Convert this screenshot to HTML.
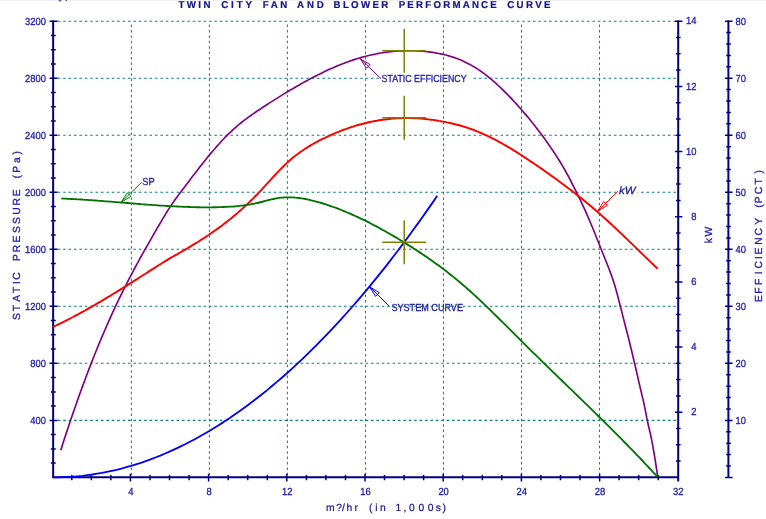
<!DOCTYPE html>
<html><head><meta charset="utf-8"><title>Twin City Fan and Blower Performance Curve</title>
<style>html,body{margin:0;padding:0;background:#fff;width:766px;height:519px;overflow:hidden}svg{display:block;filter:blur(0.4px)}text{text-rendering:geometricPrecision;font-family:"Liberation Sans",Arial,sans-serif}</style></head><body>
<svg width="766" height="519" viewBox="0 0 766 519" font-size="10">
<rect width="766" height="519" fill="#fff"/>
<rect x="0" y="0" width="766" height="1" fill="#f1f1f1"/>
<path d="M57.8 420.4 H677.2 M57.8 363.3 H677.2 M57.8 306.3 H677.2 M57.8 249.3 H677.2 M57.8 192.3 H677.2 M57.8 135.2 H677.2 M57.8 78.2 H677.2 M57.8 21.2 H677.2" fill="none" stroke="#008080" stroke-width="1.1" stroke-dasharray="2.5 2.9"/>
<path d="M131.4 24.6 V476.4 M209.4 24.6 V476.4 M287.4 24.6 V476.4 M365.5 24.6 V476.4 M443.5 24.6 V476.4 M521.5 24.6 V476.4 M599.5 24.6 V476.4" fill="none" stroke="#0c8686" stroke-width="1.05" stroke-dasharray="2.5 2.9"/>
<path d="M53.15 20.5 V478.3 M52.15 477.3 H679.2 M678.2 20.5 V481.6 M728.4 20.5 V478.0" stroke="#000080" stroke-width="2" fill="none"/>
<path d="M50.85 463.1 H55.75 M50.85 448.9 H55.75 M50.85 434.6 H55.75 M49.55 420.4 H57.55 M50.85 406.1 H55.75 M50.85 391.9 H55.75 M50.85 377.6 H55.75 M49.55 363.3 H57.55 M50.85 349.1 H55.75 M50.85 334.8 H55.75 M50.85 320.6 H55.75 M49.55 306.3 H57.55 M50.85 292.1 H55.75 M50.85 277.8 H55.75 M50.85 263.6 H55.75 M49.55 249.3 H57.55 M50.85 235.0 H55.75 M50.85 220.8 H55.75 M50.85 206.5 H55.75 M49.55 192.3 H57.55 M50.85 178.0 H55.75 M50.85 163.8 H55.75 M50.85 149.5 H55.75 M49.55 135.2 H57.55 M50.85 121.0 H55.75 M50.85 106.7 H55.75 M50.85 92.5 H55.75 M49.55 78.2 H57.55 M50.85 64.0 H55.75 M50.85 49.7 H55.75 M50.85 35.5 H55.75 M49.55 21.2 H57.55 M71.8 474.90000000000003 V480.3 M91.3 474.90000000000003 V480.3 M110.9 474.90000000000003 V480.3 M130.4 473.7 V481.6 M150.0 474.90000000000003 V480.3 M169.5 474.90000000000003 V480.3 M189.1 474.90000000000003 V480.3 M208.6 473.7 V481.6 M228.2 474.90000000000003 V480.3 M247.7 474.90000000000003 V480.3 M267.3 474.90000000000003 V480.3 M286.8 473.7 V481.6 M306.4 474.90000000000003 V480.3 M325.9 474.90000000000003 V480.3 M345.5 474.90000000000003 V480.3 M365.0 473.7 V481.6 M384.5 474.90000000000003 V480.3 M404.1 474.90000000000003 V480.3 M423.6 474.90000000000003 V480.3 M443.2 473.7 V481.6 M462.7 474.90000000000003 V480.3 M482.3 474.90000000000003 V480.3 M501.8 474.90000000000003 V480.3 M521.4 473.7 V481.6 M540.9 474.90000000000003 V480.3 M560.5 474.90000000000003 V480.3 M580.0 474.90000000000003 V480.3 M599.6 473.7 V481.6 M619.1 474.90000000000003 V480.3 M638.7 474.90000000000003 V480.3 M658.2 474.90000000000003 V480.3 M676.0 461.1 H680.6 M676.0 444.8 H680.6 M676.0 428.5 H680.6 M675.0 412.2 H682.4000000000001 M676.0 395.9 H680.6 M676.0 379.6 H680.6 M676.0 363.3 H680.6 M675.0 347.1 H682.4000000000001 M676.0 330.8 H680.6 M676.0 314.5 H680.6 M676.0 298.2 H680.6 M675.0 281.9 H682.4000000000001 M676.0 265.6 H680.6 M676.0 249.3 H680.6 M676.0 233.0 H680.6 M675.0 216.7 H682.4000000000001 M676.0 200.4 H680.6 M676.0 184.1 H680.6 M676.0 167.8 H680.6 M675.0 151.5 H682.4000000000001 M676.0 135.2 H680.6 M676.0 119.0 H680.6 M676.0 102.7 H680.6 M675.0 86.4 H682.4000000000001 M676.0 70.1 H680.6 M676.0 53.8 H680.6 M676.0 37.5 H680.6 M675.0 21.2 H682.4000000000001 M725.0 477.4 H732.6 M726.1999999999999 466.0 H730.8 M726.1999999999999 454.6 H730.8 M726.1999999999999 443.2 H730.8 M726.1999999999999 431.8 H730.8 M725.0 420.4 H732.6 M726.1999999999999 409.0 H730.8 M726.1999999999999 397.6 H730.8 M726.1999999999999 386.2 H730.8 M726.1999999999999 374.8 H730.8 M725.0 363.3 H732.6 M726.1999999999999 351.9 H730.8 M726.1999999999999 340.5 H730.8 M726.1999999999999 329.1 H730.8 M726.1999999999999 317.7 H730.8 M725.0 306.3 H732.6 M726.1999999999999 294.9 H730.8 M726.1999999999999 283.5 H730.8 M726.1999999999999 272.1 H730.8 M726.1999999999999 260.7 H730.8 M725.0 249.3 H732.6 M726.1999999999999 237.9 H730.8 M726.1999999999999 226.5 H730.8 M726.1999999999999 215.1 H730.8 M726.1999999999999 203.7 H730.8 M725.0 192.3 H732.6 M726.1999999999999 180.9 H730.8 M726.1999999999999 169.5 H730.8 M726.1999999999999 158.1 H730.8 M726.1999999999999 146.7 H730.8 M725.0 135.2 H732.6 M726.1999999999999 123.8 H730.8 M726.1999999999999 112.4 H730.8 M726.1999999999999 101.0 H730.8 M726.1999999999999 89.6 H730.8 M725.0 78.2 H732.6 M726.1999999999999 66.8 H730.8 M726.1999999999999 55.4 H730.8 M726.1999999999999 44.0 H730.8 M726.1999999999999 32.6 H730.8 M725.0 21.2 H732.6" stroke="#000080" stroke-width="1.5" fill="none"/>
<path d="M60.8 450.3 L62.8 443.8 L64.8 437.6 L66.8 431.5 L68.8 425.5 L70.8 419.6 L72.8 413.7 L74.8 407.9 L76.8 402.2 L78.8 396.6 L80.8 391.0 L82.8 385.6 L84.8 380.2 L86.8 374.8 L88.8 369.6 L90.8 364.4 L92.8 359.3 L94.8 354.3 L96.8 349.3 L98.8 344.4 L100.8 339.6 L102.8 334.9 L104.8 330.2 L106.8 325.6 L108.8 321.1 L110.8 316.6 L112.8 312.2 L114.8 307.9 L116.8 303.6 L118.8 299.4 L120.8 295.3 L122.8 291.3 L124.8 287.3 L126.8 283.3 L128.8 279.4 L130.8 275.6 L132.8 271.8 L134.8 268.0 L136.8 264.3 L138.8 260.6 L140.8 257.0 L142.8 253.4 L144.8 249.8 L146.8 246.3 L148.8 242.8 L150.8 239.3 L152.8 235.8 L154.8 232.4 L156.8 228.9 L158.8 225.5 L160.8 222.1 L162.8 218.7 L164.8 215.3 L166.8 212.0 L168.8 208.9 L170.8 205.8 L172.8 202.9 L174.8 200.0 L176.8 197.3 L178.8 194.6 L180.8 192.0 L182.8 189.3 L184.8 186.7 L186.8 184.0 L188.8 181.4 L190.8 178.7 L192.8 176.1 L194.8 173.5 L196.8 170.9 L198.8 168.3 L200.8 165.7 L202.8 163.2 L204.8 160.7 L206.8 158.2 L208.8 155.8 L210.8 153.4 L212.8 151.0 L214.8 148.7 L216.8 146.4 L218.8 144.2 L220.8 142.0 L222.8 139.8 L224.8 137.7 L226.8 135.7 L228.8 133.7 L230.8 131.8 L232.8 129.9 L234.8 128.1 L236.8 126.3 L238.8 124.7 L240.8 123.0 L242.8 121.4 L244.8 119.9 L246.8 118.4 L248.8 116.9 L250.8 115.5 L252.8 114.1 L254.8 112.7 L256.8 111.3 L258.8 110.0 L260.8 108.7 L262.8 107.3 L264.8 106.0 L266.8 104.7 L268.8 103.4 L270.8 102.1 L272.8 100.9 L274.8 99.6 L276.8 98.4 L278.8 97.1 L280.8 95.9 L282.8 94.6 L284.8 93.4 L286.8 92.2 L288.8 91.0 L290.8 89.8 L292.8 88.7 L294.8 87.5 L296.8 86.3 L298.8 85.2 L300.8 84.0 L302.8 82.9 L304.8 81.8 L306.8 80.7 L308.8 79.6 L310.8 78.6 L312.8 77.5 L314.8 76.5 L316.8 75.5 L318.8 74.4 L320.8 73.5 L322.8 72.5 L324.8 71.5 L326.8 70.6 L328.8 69.6 L330.8 68.7 L332.8 67.9 L334.8 67.0 L336.8 66.1 L338.8 65.3 L340.8 64.5 L342.8 63.7 L344.8 62.9 L346.8 62.2 L348.8 61.5 L350.8 60.8 L352.8 60.1 L354.8 59.4 L356.8 58.8 L358.8 58.2 L360.8 57.6 L362.8 57.0 L364.8 56.5 L366.8 56.0 L368.8 55.5 L370.8 55.0 L372.8 54.6 L374.8 54.2 L376.8 53.8 L378.8 53.4 L380.8 53.0 L382.8 52.7 L384.8 52.4 L386.8 52.2 L388.8 51.9 L390.8 51.7 L392.8 51.5 L394.8 51.3 L396.8 51.1 L398.8 51.0 L400.8 50.9 L402.8 50.8 L404.8 50.8 L406.8 50.7 L408.8 50.7 L410.8 50.7 L412.8 50.7 L414.8 50.8 L416.8 50.9 L418.8 51.0 L420.8 51.1 L422.8 51.3 L424.8 51.5 L426.8 51.7 L428.8 51.9 L430.8 52.1 L432.8 52.4 L434.8 52.7 L436.8 53.1 L438.8 53.5 L440.8 53.9 L442.8 54.3 L444.8 54.8 L446.8 55.3 L448.8 55.9 L450.8 56.5 L452.8 57.1 L454.8 57.8 L456.8 58.5 L458.8 59.3 L460.8 60.1 L462.8 61.0 L464.8 61.9 L466.8 62.9 L468.8 63.9 L470.8 65.0 L472.8 66.1 L474.8 67.3 L476.8 68.6 L478.8 69.9 L480.8 71.2 L482.8 72.6 L484.8 74.1 L486.8 75.7 L488.8 77.3 L490.8 78.9 L492.8 80.6 L494.8 82.4 L496.8 84.2 L498.8 86.0 L500.8 87.9 L502.8 89.8 L504.8 91.8 L506.8 93.8 L508.8 95.9 L510.8 97.9 L512.8 100.1 L514.8 102.2 L516.8 104.4 L518.8 106.7 L520.8 108.9 L522.8 111.2 L524.8 113.6 L526.8 115.9 L528.8 118.3 L530.8 120.8 L532.8 123.3 L534.8 125.8 L536.8 128.4 L538.8 131.0 L540.8 133.6 L542.8 136.3 L544.8 139.1 L546.8 141.8 L548.8 144.7 L550.8 147.6 L552.8 150.5 L554.8 153.5 L556.8 156.6 L558.8 159.7 L560.8 163.0 L562.8 166.4 L564.8 169.8 L566.8 173.5 L568.8 177.2 L570.8 181.0 L572.8 184.9 L574.8 188.9 L576.8 192.9 L578.8 197.0 L580.8 201.1 L582.8 205.3 L584.8 209.7 L586.8 214.2 L588.8 218.8 L590.8 223.5 L592.8 228.3 L594.8 233.2 L596.8 238.2 L598.8 243.2 L600.8 248.2 L602.8 253.3 L604.8 258.3 L606.8 263.3 L608.8 268.3 L610.8 273.6 L612.8 279.2 L614.8 285.6 L616.8 292.6 L618.8 300.3 L620.8 308.1 L622.8 315.9 L624.8 323.7 L626.8 331.5 L628.8 339.4 L630.8 347.5 L632.8 355.7 L634.8 364.2 L636.8 372.8 L638.8 381.6 L640.8 390.2 L642.8 398.6 L644.8 407.6 L646.8 418.0 L648.8 427.2 L650.8 435.6 L652.8 445.8 L654.8 457.6 L656.8 470.5 L657.7 476.6" fill="none" stroke="#800080" stroke-width="1.65" stroke-linejoin="round"/>
<path d="M53.0 326.9 L55.0 326.0 L57.0 325.0 L59.0 324.1 L61.0 323.1 L63.0 322.1 L65.0 321.1 L67.0 320.1 L69.0 319.1 L71.0 318.0 L73.0 317.0 L75.0 315.9 L77.0 314.8 L79.0 313.8 L81.0 312.7 L83.0 311.6 L85.0 310.5 L87.0 309.3 L89.0 308.2 L91.0 307.1 L93.0 305.9 L95.0 304.8 L97.0 303.6 L99.0 302.4 L101.0 301.3 L103.0 300.1 L105.0 298.9 L107.0 297.7 L109.0 296.5 L111.0 295.3 L113.0 294.0 L115.0 292.8 L117.0 291.6 L119.0 290.4 L121.0 289.1 L123.0 287.9 L125.0 286.6 L127.0 285.4 L129.0 284.1 L131.0 282.9 L133.0 281.6 L135.0 280.3 L137.0 279.1 L139.0 277.8 L141.0 276.5 L143.0 275.2 L145.0 274.0 L147.0 272.7 L149.0 271.4 L151.0 270.1 L153.0 268.9 L155.0 267.6 L157.0 266.3 L159.0 265.0 L161.0 263.8 L163.0 262.5 L165.0 261.3 L167.0 260.1 L169.0 258.9 L171.0 257.7 L173.0 256.6 L175.0 255.4 L177.0 254.3 L179.0 253.1 L181.0 252.0 L183.0 250.8 L185.0 249.7 L187.0 248.5 L189.0 247.3 L191.0 246.1 L193.0 244.9 L195.0 243.7 L197.0 242.5 L199.0 241.2 L201.0 239.9 L203.0 238.7 L205.0 237.4 L207.0 236.0 L209.0 234.7 L211.0 233.3 L213.0 231.9 L215.0 230.5 L217.0 229.1 L219.0 227.6 L221.0 226.2 L223.0 224.7 L225.0 223.1 L227.0 221.6 L229.0 220.0 L231.0 218.4 L233.0 216.7 L235.0 215.1 L237.0 213.4 L239.0 211.6 L241.0 209.9 L243.0 208.1 L245.0 206.2 L247.0 204.4 L249.0 202.5 L251.0 200.5 L253.0 198.6 L255.0 196.5 L257.0 194.5 L259.0 192.4 L261.0 190.3 L263.0 188.1 L265.0 185.9 L267.0 183.7 L269.0 181.6 L271.0 179.4 L273.0 177.2 L275.0 175.0 L277.0 172.9 L279.0 170.8 L281.0 168.7 L283.0 166.7 L285.0 164.7 L287.0 162.9 L289.0 161.0 L291.0 159.3 L293.0 157.6 L295.0 156.0 L297.0 154.5 L299.0 153.0 L301.0 151.5 L303.0 150.2 L305.0 148.8 L307.0 147.6 L309.0 146.3 L311.0 145.1 L313.0 144.0 L315.0 142.9 L317.0 141.8 L319.0 140.7 L321.0 139.7 L323.0 138.7 L325.0 137.8 L327.0 136.8 L329.0 135.9 L331.0 135.0 L333.0 134.1 L335.0 133.2 L337.0 132.4 L339.0 131.6 L341.0 130.8 L343.0 130.0 L345.0 129.3 L347.0 128.6 L349.0 127.9 L351.0 127.2 L353.0 126.6 L355.0 125.9 L357.0 125.3 L359.0 124.8 L361.0 124.2 L363.0 123.7 L365.0 123.2 L367.0 122.7 L369.0 122.2 L371.0 121.8 L373.0 121.4 L375.0 121.0 L377.0 120.7 L379.0 120.3 L381.0 120.0 L383.0 119.7 L385.0 119.5 L387.0 119.2 L389.0 119.0 L391.0 118.8 L393.0 118.6 L395.0 118.5 L397.0 118.4 L399.0 118.3 L401.0 118.2 L403.0 118.1 L405.0 118.1 L407.0 118.1 L409.0 118.1 L411.0 118.1 L413.0 118.2 L415.0 118.3 L417.0 118.4 L419.0 118.5 L421.0 118.6 L423.0 118.8 L425.0 119.0 L427.0 119.2 L429.0 119.4 L431.0 119.7 L433.0 119.9 L435.0 120.2 L437.0 120.5 L439.0 120.9 L441.0 121.2 L443.0 121.6 L445.0 121.9 L447.0 122.4 L449.0 122.8 L451.0 123.2 L453.0 123.7 L455.0 124.2 L457.0 124.7 L459.0 125.2 L461.0 125.8 L463.0 126.4 L465.0 127.0 L467.0 127.6 L469.0 128.3 L471.0 129.0 L473.0 129.7 L475.0 130.5 L477.0 131.3 L479.0 132.1 L481.0 133.0 L483.0 133.8 L485.0 134.8 L487.0 135.7 L489.0 136.6 L491.0 137.6 L493.0 138.6 L495.0 139.7 L497.0 140.7 L499.0 141.8 L501.0 142.9 L503.0 144.0 L505.0 145.2 L507.0 146.3 L509.0 147.5 L511.0 148.7 L513.0 149.9 L515.0 151.2 L517.0 152.4 L519.0 153.7 L521.0 155.0 L523.0 156.2 L525.0 157.6 L527.0 158.9 L529.0 160.2 L531.0 161.6 L533.0 162.9 L535.0 164.3 L537.0 165.6 L539.0 167.0 L541.0 168.4 L543.0 169.8 L545.0 171.2 L547.0 172.6 L549.0 174.0 L551.0 175.5 L553.0 176.9 L555.0 178.3 L557.0 179.8 L559.0 181.3 L561.0 182.7 L563.0 184.2 L565.0 185.7 L567.0 187.2 L569.0 188.7 L571.0 190.2 L573.0 191.8 L575.0 193.3 L577.0 194.9 L579.0 196.5 L581.0 198.1 L583.0 199.7 L585.0 201.3 L587.0 203.0 L589.0 204.6 L591.0 206.3 L593.0 208.0 L595.0 209.7 L597.0 211.4 L599.0 213.2 L601.0 214.9 L603.0 216.7 L605.0 218.5 L607.0 220.3 L609.0 222.2 L611.0 224.0 L613.0 225.9 L615.0 227.7 L617.0 229.6 L619.0 231.5 L621.0 233.4 L623.0 235.3 L625.0 237.2 L627.0 239.1 L629.0 241.1 L631.0 243.0 L633.0 244.9 L635.0 246.9 L637.0 248.8 L639.0 250.7 L641.0 252.7 L643.0 254.6 L645.0 256.6 L647.0 258.5 L649.0 260.4 L651.0 262.4 L653.0 264.3 L655.0 266.2 L657.0 268.1 L657.6 268.8" fill="none" stroke="#ff0000" stroke-width="1.95" stroke-linejoin="round"/>
<path d="M61.3 198.4 L63.3 198.6 L65.3 198.7 L67.3 198.8 L69.3 198.9 L71.3 199.0 L73.3 199.1 L75.3 199.2 L77.3 199.3 L79.3 199.4 L81.3 199.5 L83.3 199.7 L85.3 199.8 L87.3 199.9 L89.3 200.1 L91.3 200.2 L93.3 200.4 L95.3 200.5 L97.3 200.6 L99.3 200.8 L101.3 200.9 L103.3 201.1 L105.3 201.3 L107.3 201.4 L109.3 201.6 L111.3 201.7 L113.3 201.9 L115.3 202.1 L117.3 202.2 L119.3 202.4 L121.3 202.5 L123.3 202.7 L125.3 202.9 L127.3 203.0 L129.3 203.2 L131.3 203.4 L133.3 203.5 L135.3 203.7 L137.3 203.9 L139.3 204.0 L141.3 204.2 L143.3 204.3 L145.3 204.5 L147.3 204.6 L149.3 204.8 L151.3 204.9 L153.3 205.1 L155.3 205.2 L157.3 205.3 L159.3 205.5 L161.3 205.6 L163.3 205.7 L165.3 205.9 L167.3 206.0 L169.3 206.1 L171.3 206.2 L173.3 206.3 L175.3 206.4 L177.3 206.5 L179.3 206.6 L181.3 206.7 L183.3 206.8 L185.3 206.9 L187.3 206.9 L189.3 207.0 L191.3 207.1 L193.3 207.1 L195.3 207.2 L197.3 207.2 L199.3 207.2 L201.3 207.3 L203.3 207.3 L205.3 207.3 L207.3 207.3 L209.3 207.3 L211.3 207.3 L213.3 207.2 L215.3 207.2 L217.3 207.2 L219.3 207.1 L221.3 207.1 L223.3 207.0 L225.3 206.9 L227.3 206.8 L229.3 206.7 L231.3 206.6 L233.3 206.5 L235.3 206.3 L237.3 206.1 L239.3 205.9 L241.3 205.7 L243.3 205.5 L245.3 205.2 L247.3 204.9 L249.3 204.6 L251.3 204.2 L253.3 203.8 L255.3 203.4 L257.3 203.0 L259.3 202.5 L261.3 202.0 L263.3 201.5 L265.3 200.9 L267.3 200.4 L269.3 199.9 L271.3 199.4 L273.3 199.0 L275.3 198.6 L277.3 198.2 L279.3 197.9 L281.3 197.6 L283.3 197.5 L285.3 197.3 L287.3 197.3 L289.3 197.3 L291.3 197.3 L293.3 197.4 L295.3 197.6 L297.3 197.8 L299.3 198.0 L301.3 198.3 L303.3 198.6 L305.3 199.0 L307.3 199.4 L309.3 199.8 L311.3 200.3 L313.3 200.8 L315.3 201.3 L317.3 201.8 L319.3 202.4 L321.3 203.0 L323.3 203.6 L325.3 204.2 L327.3 204.9 L329.3 205.6 L331.3 206.3 L333.3 207.0 L335.3 207.7 L337.3 208.4 L339.3 209.2 L341.3 210.0 L343.3 210.8 L345.3 211.6 L347.3 212.5 L349.3 213.3 L351.3 214.2 L353.3 215.1 L355.3 216.0 L357.3 216.9 L359.3 217.8 L361.3 218.8 L363.3 219.7 L365.3 220.7 L367.3 221.7 L369.3 222.7 L371.3 223.8 L373.3 224.8 L375.3 225.8 L377.3 226.9 L379.3 228.0 L381.3 229.1 L383.3 230.2 L385.3 231.3 L387.3 232.5 L389.3 233.6 L391.3 234.8 L393.3 235.9 L395.3 237.1 L397.3 238.3 L399.3 239.5 L401.3 240.7 L403.3 241.9 L405.3 243.2 L407.3 244.4 L409.3 245.7 L411.3 246.9 L413.3 248.2 L415.3 249.5 L417.3 250.8 L419.3 252.1 L421.3 253.4 L423.3 254.8 L425.3 256.1 L427.3 257.5 L429.3 258.9 L431.3 260.3 L433.3 261.7 L435.3 263.2 L437.3 264.6 L439.3 266.1 L441.3 267.6 L443.3 269.1 L445.3 270.6 L447.3 272.1 L449.3 273.7 L451.3 275.3 L453.3 276.9 L455.3 278.5 L457.3 280.1 L459.3 281.8 L461.3 283.5 L463.3 285.2 L465.3 286.9 L467.3 288.7 L469.3 290.5 L471.3 292.2 L473.3 294.1 L475.3 295.9 L477.3 297.7 L479.3 299.6 L481.3 301.5 L483.3 303.4 L485.3 305.3 L487.3 307.2 L489.3 309.2 L491.3 311.1 L493.3 313.1 L495.3 315.0 L497.3 317.0 L499.3 319.0 L501.3 321.0 L503.3 322.9 L505.3 324.9 L507.3 326.9 L509.3 328.9 L511.3 330.9 L513.3 332.9 L515.3 334.9 L517.3 336.9 L519.3 338.9 L521.3 340.9 L523.3 342.9 L525.3 344.9 L527.3 346.9 L529.3 348.8 L531.3 350.8 L533.3 352.8 L535.3 354.7 L537.3 356.7 L539.3 358.6 L541.3 360.6 L543.3 362.6 L545.3 364.5 L547.3 366.4 L549.3 368.4 L551.3 370.3 L553.3 372.3 L555.3 374.2 L557.3 376.1 L559.3 378.1 L561.3 380.0 L563.3 382.0 L565.3 383.9 L567.3 385.8 L569.3 387.8 L571.3 389.7 L573.3 391.6 L575.3 393.6 L577.3 395.5 L579.3 397.5 L581.3 399.4 L583.3 401.3 L585.3 403.3 L587.3 405.2 L589.3 407.2 L591.3 409.1 L593.3 411.1 L595.3 413.1 L597.3 415.0 L599.3 417.0 L601.3 419.0 L603.3 420.9 L605.3 422.9 L607.3 424.9 L609.3 426.9 L611.3 428.9 L613.3 430.9 L615.3 432.9 L617.3 434.9 L619.3 436.9 L621.3 438.9 L623.3 441.0 L625.3 443.0 L627.3 445.0 L629.3 447.1 L631.3 449.1 L633.3 451.2 L635.3 453.3 L637.3 455.4 L639.3 457.4 L641.3 459.5 L643.3 461.6 L645.3 463.8 L647.3 465.9 L649.3 468.0 L651.3 470.1 L653.3 472.3 L655.3 474.4 L657.3 476.6 L657.4 476.6" fill="none" stroke="#007200" stroke-width="1.85" stroke-linejoin="round"/>
<path d="M53.4 477.4 L58.3 477.4 L63.1 477.2 L68.0 477.0 L72.8 476.7 L77.7 476.3 L82.6 475.8 L87.4 475.2 L92.3 474.5 L97.1 473.7 L102.0 472.9 L106.8 471.9 L111.7 470.9 L116.6 469.8 L121.4 468.6 L126.3 467.2 L131.1 465.9 L136.0 464.4 L140.9 462.8 L145.7 461.1 L150.6 459.4 L155.4 457.5 L160.3 455.6 L165.2 453.5 L170.0 451.4 L174.9 449.2 L179.7 446.9 L184.6 444.5 L189.4 442.0 L194.3 439.5 L199.2 436.8 L204.0 434.0 L208.9 431.2 L213.7 428.3 L218.6 425.2 L223.5 422.1 L228.3 418.9 L233.2 415.6 L238.0 412.3 L242.9 408.8 L247.7 405.2 L252.6 401.6 L257.5 397.8 L262.3 394.0 L267.2 390.1 L272.0 386.0 L276.9 381.9 L281.8 377.7 L286.6 373.5 L291.5 369.1 L296.3 364.6 L301.2 360.1 L306.1 355.4 L310.9 350.7 L315.8 345.8 L320.6 340.9 L325.5 335.9 L330.3 330.8 L335.2 325.6 L340.1 320.4 L344.9 315.0 L349.8 309.5 L354.6 304.0 L359.5 298.3 L364.4 292.6 L369.2 286.8 L374.1 280.9 L378.9 274.9 L383.8 268.8 L388.7 262.6 L393.5 256.3 L398.4 250.0 L403.2 243.5 L408.1 237.0 L412.9 230.3 L417.8 223.6 L422.7 216.8 L427.5 209.9 L432.4 202.9 L437.2 195.8" fill="none" stroke="#0000ff" stroke-width="1.85" stroke-linejoin="round"/>
<path d="M382.2 50.7 H426.2 M404.2 28.700000000000003 V72.7" stroke="#808000" stroke-width="1.5" fill="none"/>
<path d="M382.2 117.8 H426.2 M404.2 95.8 V139.8" stroke="#808000" stroke-width="1.5" fill="none"/>
<path d="M382.2 242.3 H426.2 M404.2 220.3 V264.3" stroke="#808000" stroke-width="1.5" fill="none"/>
<line x1="141.9" y1="182.0" x2="121.2" y2="202.2" stroke="#008000" stroke-width="1"/><path d="M121.2 202.2 L130.9 196.4 L127.3 192.7 Z" fill="none" stroke="#008000" stroke-width="1"/>
<line x1="381.2" y1="78.9" x2="360.3" y2="58.8" stroke="#800080" stroke-width="1"/><path d="M360.3 58.8 L366.4 68.3 L370.0 64.6 Z" fill="none" stroke="#800080" stroke-width="1"/>
<line x1="617.8" y1="191.4" x2="597.6" y2="211.2" stroke="#ff0000" stroke-width="1"/><path d="M597.6 211.2 L607.3 205.4 L603.6 201.6 Z" fill="none" stroke="#ff0000" stroke-width="1"/>
<line x1="389.3" y1="306.2" x2="369.6" y2="286.8" stroke="#0000ff" stroke-width="1"/><path d="M369.6 286.8 L375.6 296.4 L379.3 292.7 Z" fill="none" stroke="#0000ff" stroke-width="1"/>
<g fill="#1e1eac" stroke="#1e1eac" stroke-width="0.32" font-size="10.3">
<text transform="translate(45.9 424.0) scale(.91 1)" text-anchor="end">400</text>
<text transform="translate(45.9 366.9) scale(.91 1)" text-anchor="end">800</text>
<text transform="translate(45.9 309.9) scale(.91 1)" text-anchor="end">1200</text>
<text transform="translate(45.9 252.9) scale(.91 1)" text-anchor="end">1600</text>
<text transform="translate(45.9 195.9) scale(.91 1)" text-anchor="end">2000</text>
<text transform="translate(45.9 138.8) scale(.91 1)" text-anchor="end">2400</text>
<text transform="translate(45.9 81.8) scale(.91 1)" text-anchor="end">2800</text>
<text transform="translate(45.9 24.8) scale(.91 1)" text-anchor="end">3200</text>
<text transform="translate(130.8 495.0) scale(.91 1)" text-anchor="middle">4</text>
<text transform="translate(209.0 495.0) scale(.91 1)" text-anchor="middle">8</text>
<text transform="translate(287.2 495.0) scale(.91 1)" text-anchor="middle">12</text>
<text transform="translate(365.4 495.0) scale(.91 1)" text-anchor="middle">16</text>
<text transform="translate(443.6 495.0) scale(.91 1)" text-anchor="middle">20</text>
<text transform="translate(521.8 495.0) scale(.91 1)" text-anchor="middle">24</text>
<text transform="translate(600.0 495.0) scale(.91 1)" text-anchor="middle">28</text>
<text transform="translate(678.2 495.0) scale(.91 1)" text-anchor="middle">32</text>
<text transform="translate(696.4 415.4) scale(.91 1)" text-anchor="end">2</text>
<text transform="translate(696.4 350.3) scale(.91 1)" text-anchor="end">4</text>
<text transform="translate(696.4 285.1) scale(.91 1)" text-anchor="end">6</text>
<text transform="translate(696.4 219.9) scale(.91 1)" text-anchor="end">8</text>
<text transform="translate(696.4 154.7) scale(.91 1)" text-anchor="end">10</text>
<text transform="translate(696.4 89.6) scale(.91 1)" text-anchor="end">12</text>
<text transform="translate(696.4 24.4) scale(.91 1)" text-anchor="end">14</text>
<text transform="translate(745.9 423.7) scale(.91 1)" text-anchor="end">10</text>
<text transform="translate(745.9 366.6) scale(.91 1)" text-anchor="end">20</text>
<text transform="translate(745.9 309.6) scale(.91 1)" text-anchor="end">30</text>
<text transform="translate(745.9 252.6) scale(.91 1)" text-anchor="end">40</text>
<text transform="translate(745.9 195.6) scale(.91 1)" text-anchor="end">50</text>
<text transform="translate(745.9 138.6) scale(.91 1)" text-anchor="end">60</text>
<text transform="translate(745.9 81.5) scale(.91 1)" text-anchor="end">70</text>
<text transform="translate(745.9 24.5) scale(.91 1)" text-anchor="end">80</text>
<rect x="381" y="73.8" width="90.6" height="11" fill="#fff" stroke="none"/><rect x="618.8" y="185" width="18.8" height="10" fill="#fff" stroke="none"/>
<text x="142.3" y="184.7" font-size="10.2" textLength="12.4" lengthAdjust="spacingAndGlyphs">SP</text>
<text x="381.6" y="82.2" font-size="10.2" textLength="85" lengthAdjust="spacingAndGlyphs">STATIC EFFICIENCY</text>
<text x="619" y="193.7" font-style="italic" font-size="10.6" textLength="16.6" lengthAdjust="spacingAndGlyphs">kW</text>
<text x="391.4" y="311.1" font-size="10.2" textLength="71.6" lengthAdjust="spacingAndGlyphs">SYSTEM CURVE</text>
<text transform="translate(20.1 0) rotate(-90)" font-size="10.3" x="-320.1 -311.2 -301.7 -292.9 -283.9 -279.8 -274.7 -261.1 -252.2 -242.6 -233.1 -224.0 -214.7 -205.6 -196.2 -191.0 -178.5 -172.8 -163.0 -154.4" y="0">STATIC PRESSURE (Pa)</text>
<text transform="translate(712.3 0) rotate(-90)" font-size="10.3" x="-243.2 -236.6" y="0">kW</text>
<text transform="translate(762.4 0) rotate(-90)" font-size="10.3" x="-302.0 -293.7 -285.0 -274.3 -268.4 -258.9 -254.4 -244.7 -235.4 -224.7 -219.6 -207.8 -203.2 -194.3 -184.4 -173.6" y="0">EFFICIENCY (PCT)</text>
</g>
<g fill="#141490" stroke="#141490" stroke-width="0.2">
<text x="326.1 336.2 342 346.5 354.5 360 368.9 375.3 379.9 388 395.6 403.5 409 418.4 427.7 435.8 442.5" y="510.7" font-size="10.3">m?/hr (in 1,000s)</text>
<text transform="translate(0 8.4) scale(1 1.03)" y="0" font-weight="bold" font-size="9.7" letter-spacing="2.35" stroke="#141490" stroke-width="0.2"><tspan x="178.6" letter-spacing="2.35">TWIN</tspan> <tspan x="221.2" letter-spacing="2.9">CITY</tspan> <tspan x="262.7" letter-spacing="2.6">FAN</tspan> <tspan x="297.1" letter-spacing="2.8">AND</tspan> <tspan x="333.6" letter-spacing="2.3">BLOWER</tspan> <tspan x="398.7" letter-spacing="2.22">PERFORMANCE</tspan> <tspan x="507.2" letter-spacing="2.4">CURVE</tspan></text>
</g>
<rect x="58.5" y="0" width="3" height="1.4" rx="1" fill="#5a5ac0"/><rect x="65.5" y="0" width="1.5" height="1.2" fill="#7a5ab8"/>
</svg></body></html>
